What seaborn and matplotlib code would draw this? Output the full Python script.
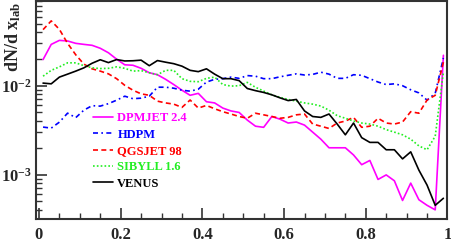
import numpy as np
import pandas as pd
import matplotlib
matplotlib.use("Agg")
import matplotlib.pyplot as plt
import matplotlib.ticker as mticker
import seaborn as sns

# ----------------------------------------
# Data
# ----------------------------------------

x_lab = [0.01, 0.03, 0.05, 0.07, 0.09, 0.11, 0.13, 0.15, 0.17, 0.19,
         0.21, 0.23, 0.25, 0.27, 0.29, 0.31, 0.33, 0.35, 0.37, 0.39,
         0.41, 0.43, 0.45, 0.47, 0.49, 0.51, 0.53, 0.55, 0.57, 0.59,
         0.61, 0.63, 0.65, 0.67, 0.69, 0.71, 0.73, 0.75, 0.77, 0.79,
         0.81, 0.83, 0.85, 0.87, 0.89, 0.91, 0.93, 0.95, 0.97, 0.99]

dpmjet = [0.0197, 0.0292, 0.0324, 0.0319, 0.0300, 0.0292, 0.0285, 0.0264, 0.0235, 0.0199,
          0.0172, 0.0170, 0.0157, 0.0140, 0.0133, 0.0118, 0.0103, 0.0089, 0.0078, 0.0082,
          0.0066, 0.0064, 0.0056, 0.0052, 0.0050, 0.0041, 0.0035, 0.0034, 0.0045, 0.0042,
          0.0038, 0.0039, 0.0036, 0.0030, 0.0025, 0.0020, 0.0020, 0.0020, 0.00166, 0.00129,
          0.00144, 0.00088, 0.00099, 0.00085, 0.00051, 0.00080, 0.00052, 0.00045, 0.00040, 0.0220]

hdpm = [0.00342, 0.00333, 0.00389, 0.00491, 0.00437, 0.00531, 0.00596, 0.00589, 0.00628, 0.00687,
        0.00762, 0.00714, 0.00724, 0.00762, 0.00962, 0.00962, 0.00937, 0.0089, 0.00868, 0.00913,
        0.0110, 0.0118, 0.0120, 0.0125, 0.0121, 0.0130, 0.0128, 0.0120, 0.0120, 0.0126,
        0.0131, 0.0136, 0.0132, 0.0134, 0.0142, 0.0135, 0.0121, 0.0121, 0.0133, 0.0131,
        0.0120, 0.0110, 0.0103, 0.0105, 0.0100, 0.0090, 0.0083, 0.00687, 0.0082, 0.0205]

qgsjet = [0.0428, 0.0537, 0.0431, 0.0300, 0.0223, 0.0175, 0.0155, 0.0146, 0.0136, 0.0120,
          0.0101, 0.0089, 0.0081, 0.0078, 0.0067, 0.0064, 0.0062, 0.0057, 0.0069, 0.0056,
          0.0060, 0.0055, 0.0051, 0.0048, 0.0045, 0.0043, 0.0049, 0.0047, 0.0045, 0.0043,
          0.0044, 0.0047, 0.0048, 0.0037, 0.0035, 0.0033, 0.0038, 0.0040, 0.0044, 0.0034,
          0.0035, 0.0043, 0.0038, 0.0037, 0.0039, 0.0051, 0.0049, 0.0069, 0.0078, 0.0184]

sibyll = [0.0128, 0.0149, 0.0163, 0.0181, 0.0181, 0.0168, 0.0159, 0.0156, 0.0157, 0.0163,
          0.0157, 0.0146, 0.0148, 0.0140, 0.0133, 0.0149, 0.0149, 0.0120, 0.0112, 0.0111,
          0.0121, 0.0125, 0.0103, 0.0099, 0.0100, 0.0109, 0.0096, 0.0087, 0.0079, 0.0074,
          0.0070, 0.0067, 0.0064, 0.0062, 0.0059, 0.0053, 0.0046, 0.0043, 0.0040, 0.0038,
          0.0037, 0.0035, 0.0032, 0.0030, 0.0028, 0.0025, 0.0021, 0.0019, 0.0027, 0.0142]

venus = [0.0107, 0.0105, 0.0125, 0.0135, 0.0146, 0.0159, 0.0179, 0.0196, 0.0182, 0.0197,
         0.0190, 0.0191, 0.0194, 0.0168, 0.0192, 0.0184, 0.0177, 0.0166, 0.0149, 0.0144,
         0.0155, 0.0135, 0.0120, 0.0120, 0.0114, 0.0093, 0.0088, 0.0084, 0.0079, 0.0073,
         0.0068, 0.0070, 0.0052, 0.0045, 0.0044, 0.0048, 0.0037, 0.0028, 0.0038, 0.0026,
         0.0023, 0.0023, 0.0019, 0.0019, 0.0015, 0.0018, 0.00112, 0.00076, 0.00045, 0.00054]

model_names = ["DPMJET 2.4", "HDPM", "QGSJET 98", "SIBYLL 1.6", "VENUS"]
x_tick_values = [0, 0.2, 0.4, 0.6, 0.8, 1.0]
x_tick_labels = ["0", "0.2", "0.4", "0.6", "0.8", "1"]

# ----------------------------------------
# Style
# ----------------------------------------

sns.set_style("white")
plt.rcParams["font.family"] = ["Liberation Serif", "DejaVu Serif"]
plt.rcParams["font.weight"] = "bold"
plt.rcParams["mathtext.fontset"] = "custom"
plt.rcParams["mathtext.rm"] = "Liberation Serif:bold"
plt.rcParams["mathtext.it"] = "Liberation Serif:bold"
plt.rcParams["mathtext.bf"] = "Liberation Serif:bold"

colors = ["#ff00ff", "#0000ff", "#ff0000", "#22ee22", "#000000"]
styles = ["-", (0, (3, 2, 1, 2)), (0, (3, 2)), (0, (1, 1.3)), "-"]

# ----------------------------------------
# Plot
# ----------------------------------------

df = pd.DataFrame({"x": x_lab, "DPMJET 2.4": dpmjet, "HDPM": hdpm,
                   "QGSJET 98": qgsjet, "SIBYLL 1.6": sibyll, "VENUS": venus})

fig = plt.figure(figsize=(4.52, 2.43), dpi=100)
ax = fig.add_axes([0.079, 0.099, 0.911, 0.897])

for name, col, ls in zip(model_names, colors, styles):
    sns.lineplot(data=df, x="x", y=name, ax=ax, color=col,
                 linestyle=ls, linewidth=1.2, label=name)

ax.set_yscale("log")
ax.set_xlim(-0.008, 1.0)
ax.set_ylim(3.16e-4, 0.09)

ax.xaxis.set_major_locator(mticker.FixedLocator(x_tick_values))
ax.xaxis.set_major_formatter(mticker.FixedFormatter(x_tick_labels))
ax.xaxis.set_minor_locator(mticker.MultipleLocator(0.05))

ax.tick_params(axis="both", which="both", direction="in",
               bottom=True, left=True, top=False, right=False,
               labelsize=12, color="#333333")
ax.tick_params(axis="both", which="major", length=8, width=1.2)
ax.tick_params(axis="both", which="minor", length=4, width=1.0)
ax.tick_params(axis="x", pad=6)
ax.tick_params(axis="y", pad=3)

for sp in ax.spines.values():
    sp.set_color("#333333")
    sp.set_linewidth(1.5)

ax.set_xlabel("")
ax.set_ylabel(r"dN/d x$_{\mathrm{lab}}$", fontsize=13, fontweight="bold", loc="top")
ax.yaxis.set_label_coords(-0.031, 0.995)

leg = ax.legend(loc="upper left", bbox_to_anchor=(0.139, 0.49),
                frameon=False, fontsize=9, handlelength=1.6,
                handletextpad=0.35, labelspacing=0.35,
                borderpad=0, borderaxespad=0, labelcolor="linecolor")
for t in leg.get_texts():
    t.set_fontweight("bold")

plt.savefig("out.png", dpi=100)
